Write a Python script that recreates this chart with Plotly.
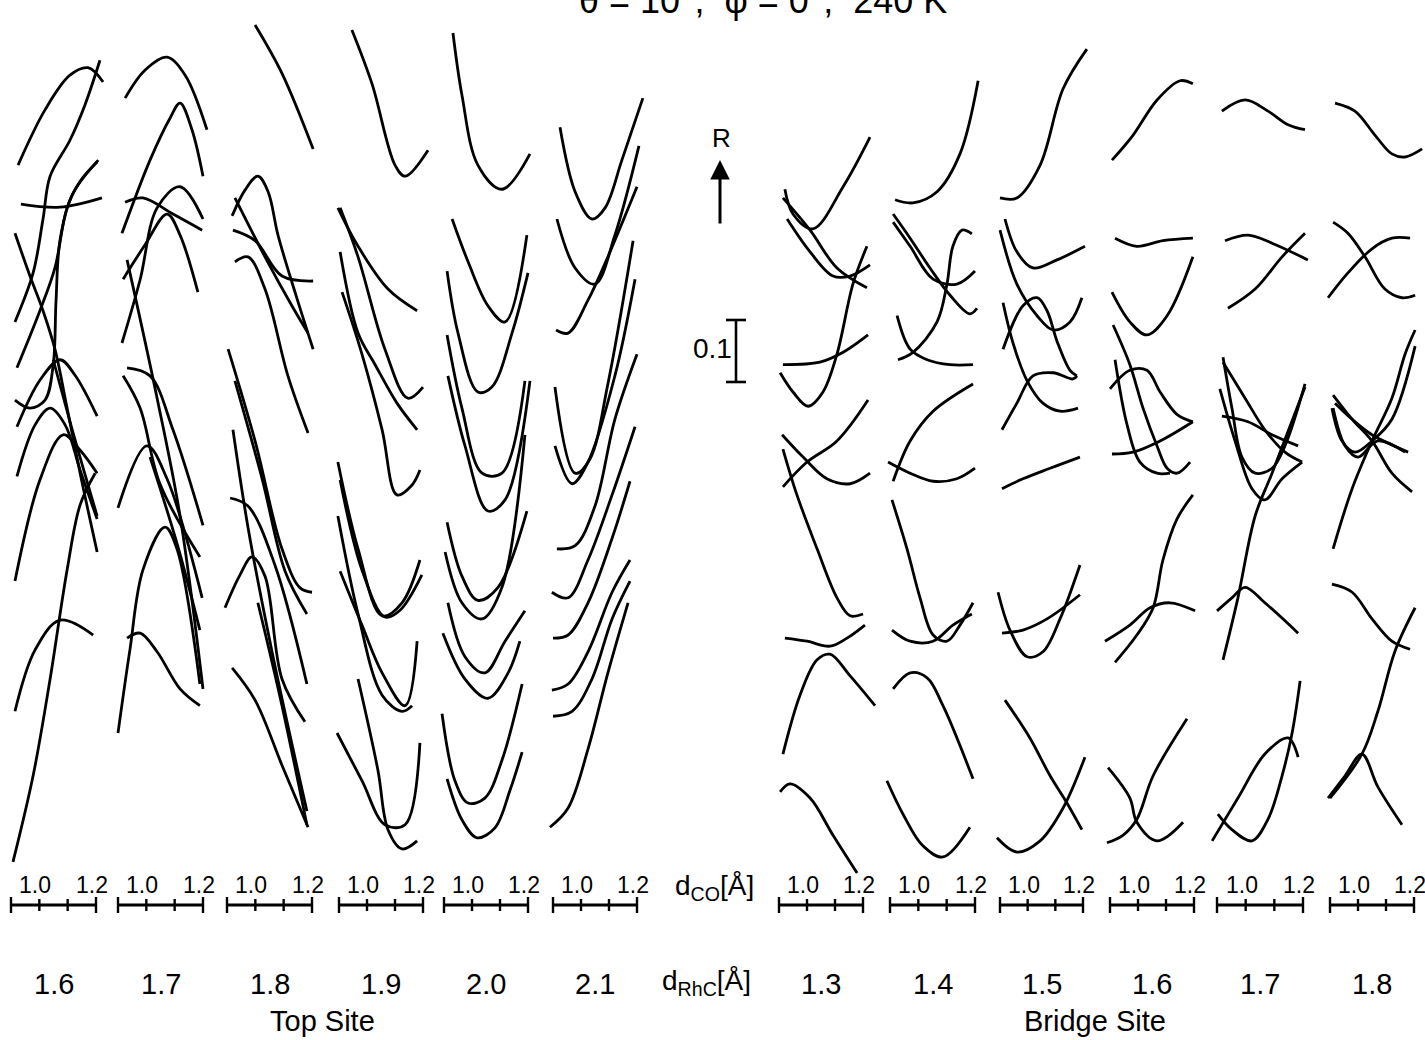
import plotly.graph_objects as go

W, H = 1425, 1040

# ---------------- data ----------------
DCO_TICKS = [0.9, 1.0, 1.1, 1.2]
DCO_LABELED = [1.0, 1.2]
TOP_DRHC = ["1.6", "1.7", "1.8", "1.9", "2.0", "2.1"]
BRIDGE_DRHC = ["1.3", "1.4", "1.5", "1.6", "1.7", "1.8"]
SCALE_R = 0.1  # R scale bar length

# each curve: list of (d_CO [Å], R with vertical offset)
top_16 = [
    [(0.925, 1.137), (1.020, 1.226), (1.108, 1.282), (1.172, 1.294), (1.225, 1.271)],
    [(0.914, 0.884), (0.978, 0.963), (1.013, 1.050), (1.038, 1.119), (1.108, 1.177), (1.161, 1.234), (1.214, 1.306)],
    [(0.935, 1.074), (1.073, 1.069), (1.221, 1.084)],
    [(0.914, 1.027), (0.967, 0.958), (1.013, 0.902), (1.055, 0.840), (1.098, 0.745), (1.144, 0.640), (1.204, 0.513)],
    [(0.921, 0.810), (1.002, 0.902), (1.055, 0.971), (1.098, 1.068), (1.144, 1.111), (1.204, 1.142)],
    [(0.914, 0.758), (0.967, 0.745), (1.020, 0.758), (1.049, 0.815), (1.059, 0.919), (1.073, 1.016), (1.116, 1.089), (1.208, 1.145)],
    [(0.921, 0.715), (1.002, 0.790), (1.073, 0.823), (1.126, 0.798), (1.204, 0.732)],
    [(0.921, 0.635), (0.985, 0.718), (1.038, 0.745), (1.091, 0.718), (1.144, 0.645), (1.204, 0.566)],
    [(0.914, 0.466), (1.002, 0.629), (1.084, 0.702), (1.144, 0.677), (1.204, 0.640)],
    [(0.907, 0.013), (0.978, 0.152), (1.038, 0.308), (1.098, 0.484), (1.144, 0.589), (1.197, 0.640)],
    [(0.914, 0.256), (0.985, 0.355), (1.073, 0.403), (1.190, 0.379)],
    [(1.049, 0.823), (1.126, 0.694), (1.204, 0.571)],
]
top_17 = [
    [(0.925, 1.245), (0.995, 1.290), (1.073, 1.311), (1.137, 1.282), (1.214, 1.194)],
    [(0.914, 1.027), (1.013, 1.145), (1.084, 1.213), (1.119, 1.237), (1.161, 1.194), (1.200, 1.119)],
    [(0.925, 1.077), (0.988, 1.084), (1.094, 1.058), (1.197, 1.032)],
    [(0.914, 0.850), (0.978, 0.952), (1.038, 1.068), (1.119, 1.102), (1.200, 1.050)],
    [(0.918, 0.953), (0.995, 1.008), (1.073, 1.058), (1.119, 1.024), (1.182, 0.932)],
    [(0.932, 0.984), (1.038, 0.761), (1.119, 0.571), (1.200, 0.292)],
    [(0.932, 0.810), (1.013, 0.797), (1.094, 0.710), (1.200, 0.556)],
    [(0.918, 0.797), (0.978, 0.745), (1.048, 0.623), (1.189, 0.505)],
    [(0.900, 0.584), (1.002, 0.684), (1.073, 0.631), (1.197, 0.439)],
    [(1.013, 0.666), (1.108, 0.527), (1.189, 0.387)],
    [(0.900, 0.221), (0.942, 0.355), (0.988, 0.484), (1.066, 0.553), (1.108, 0.518), (1.189, 0.300)],
    [(0.932, 0.374), (0.978, 0.382), (1.038, 0.352), (1.119, 0.292), (1.189, 0.265)],
]
top_18 = [
    [(0.999, 1.363), (1.094, 1.285), (1.204, 1.163)],
    [(0.918, 1.055), (0.964, 1.097), (1.009, 1.119), (1.045, 1.094), (1.080, 1.024), (1.140, 0.932), (1.204, 0.840)],
    [(0.928, 1.084), (1.034, 0.989), (1.129, 0.910), (1.186, 0.866)],
    [(0.921, 1.032), (0.999, 1.015), (1.094, 0.958), (1.204, 0.950)],
    [(0.928, 0.981), (0.974, 0.989), (1.034, 0.937), (1.115, 0.797), (1.186, 0.705)],
    [(0.904, 0.840), (0.999, 0.692), (1.094, 0.518), (1.158, 0.455), (1.200, 0.448)],
    [(0.928, 0.789), (1.024, 0.631), (1.105, 0.482), (1.182, 0.413)],
    [(0.921, 0.710), (0.974, 0.553), (1.059, 0.352), (1.182, 0.095)],
    [(0.911, 0.600), (0.974, 0.587), (1.069, 0.492), (1.182, 0.300)],
    [(0.893, 0.423), (0.946, 0.476), (0.988, 0.505), (1.034, 0.474), (1.094, 0.308), (1.175, 0.239)],
    [(1.009, 0.431), (1.094, 0.265), (1.182, 0.073)],
    [(0.918, 0.326), (0.999, 0.274), (1.094, 0.169), (1.186, 0.069)],
]
top_19 = [
    [(0.946, 1.355), (1.018, 1.268), (1.100, 1.137), (1.136, 1.119), (1.218, 1.161)],
    [(0.896, 1.068), (0.968, 1.006), (1.075, 0.937), (1.179, 0.902)],
    [(0.904, 1.068), (0.968, 0.989), (1.064, 0.840), (1.146, 0.761), (1.200, 0.779)],
    [(0.904, 0.997), (0.968, 0.866), (1.029, 0.815), (1.107, 0.753), (1.179, 0.710)],
    [(0.911, 0.932), (0.982, 0.832), (1.054, 0.710), (1.107, 0.605), (1.161, 0.621), (1.189, 0.645)],
    [(0.896, 0.658), (0.968, 0.518), (1.054, 0.410), (1.125, 0.431), (1.189, 0.500)],
    [(0.904, 0.629), (0.982, 0.484), (1.064, 0.408), (1.118, 0.419), (1.196, 0.476)],
    [(0.904, 0.482), (0.982, 0.395), (1.054, 0.318), (1.136, 0.265), (1.179, 0.369)],
    [(0.896, 0.571), (0.968, 0.413), (1.054, 0.282), (1.125, 0.256), (1.161, 0.265)],
    [(0.893, 0.221), (0.982, 0.144), (1.064, 0.073), (1.136, 0.073), (1.189, 0.205)],
    [(0.968, 0.308), (1.039, 0.161), (1.075, 0.065), (1.125, 0.034), (1.179, 0.047)],
]
top_20 = [
    [(0.932, 1.350), (0.964, 1.250), (1.021, 1.137), (1.107, 1.098), (1.207, 1.155)],
    [(0.929, 1.050), (0.986, 0.981), (1.057, 0.910), (1.118, 0.884), (1.196, 1.024)],
    [(0.911, 0.966), (0.950, 0.866), (1.021, 0.771), (1.071, 0.779), (1.143, 0.866), (1.200, 0.963)],
    [(0.911, 0.863), (0.964, 0.745), (1.036, 0.640), (1.107, 0.640), (1.189, 0.789)],
    [(0.914, 0.797), (0.975, 0.684), (1.057, 0.579), (1.118, 0.597), (1.207, 0.789)],
    [(0.911, 0.561), (0.964, 0.474), (1.021, 0.435), (1.093, 0.456), (1.196, 0.579)],
    [(0.904, 0.513), (0.964, 0.431), (1.036, 0.405), (1.107, 0.456), (1.189, 0.702)],
    [(0.914, 0.431), (0.975, 0.344), (1.046, 0.318), (1.118, 0.369), (1.189, 0.418)],
    [(0.896, 0.382), (0.975, 0.308), (1.057, 0.277), (1.129, 0.318), (1.171, 0.369)],
    [(0.893, 0.252), (0.939, 0.144), (0.986, 0.108), (1.046, 0.116), (1.107, 0.177), (1.179, 0.300)],
    [(0.911, 0.147), (0.964, 0.081), (1.018, 0.052), (1.082, 0.068), (1.136, 0.129), (1.179, 0.190)],
]
top_21 = [
    [(0.925, 1.198), (0.979, 1.094), (1.039, 1.050), (1.086, 1.068), (1.146, 1.145), (1.221, 1.245)],
    [(0.914, 1.050), (0.979, 0.971), (1.050, 0.945), (1.121, 1.024), (1.207, 1.168)],
    [(0.911, 0.871), (0.954, 0.866), (1.025, 0.919), (1.096, 0.989), (1.200, 1.102)],
    [(0.907, 0.779), (0.979, 0.640), (1.032, 0.663), (1.096, 0.784), (1.186, 1.015)],
    [(0.907, 0.684), (0.968, 0.623), (1.025, 0.658), (1.121, 0.797), (1.193, 0.953)],
    [(0.914, 0.518), (0.979, 0.523), (1.050, 0.587), (1.121, 0.727), (1.200, 0.832)],
    [(0.896, 0.448), (0.954, 0.439), (1.025, 0.500), (1.111, 0.605), (1.193, 0.715)],
    [(0.900, 0.374), (0.954, 0.379), (1.025, 0.431), (1.111, 0.535), (1.175, 0.627)],
    [(0.896, 0.290), (0.954, 0.300), (1.025, 0.352), (1.111, 0.448), (1.175, 0.500)],
    [(0.900, 0.248), (0.968, 0.256), (1.039, 0.308), (1.111, 0.405), (1.175, 0.466)],
    [(0.889, 0.069), (0.954, 0.100), (1.025, 0.195), (1.096, 0.318), (1.168, 0.431)],
]
bridge_13 = [
    [(0.921, 1.098), (0.950, 1.058), (1.021, 1.034), (1.129, 1.102), (1.225, 1.182)],
    [(0.914, 1.084), (1.011, 1.032), (1.107, 0.971), (1.214, 0.939)],
    [(0.929, 1.050), (1.011, 0.997), (1.093, 0.958), (1.154, 0.958), (1.225, 0.976)],
    [(0.904, 0.802), (0.950, 0.771), (1.004, 0.748), (1.057, 0.771), (1.107, 0.832), (1.164, 0.945), (1.214, 1.006)],
    [(0.914, 0.815), (1.046, 0.819), (1.129, 0.835), (1.218, 0.863)],
    [(0.914, 0.618), (1.000, 0.658), (1.107, 0.692), (1.218, 0.758)],
    [(0.911, 0.702), (0.986, 0.666), (1.071, 0.631), (1.154, 0.623), (1.225, 0.640)],
    [(0.914, 0.679), (0.964, 0.605), (1.036, 0.518), (1.107, 0.439), (1.154, 0.410), (1.200, 0.413)],
    [(0.921, 0.374), (1.000, 0.369), (1.082, 0.361), (1.143, 0.374), (1.207, 0.395)],
    [(0.914, 0.187), (0.975, 0.282), (1.036, 0.339), (1.082, 0.348), (1.154, 0.313), (1.243, 0.265)],
    [(0.904, 0.126), (0.939, 0.139), (1.011, 0.116), (1.093, 0.056), (1.179, -0.005)],
]
bridge_14 = [
    [(0.918, 1.081), (0.981, 1.076), (1.066, 1.094), (1.147, 1.155), (1.211, 1.273)],
    [(0.911, 1.058), (0.971, 1.019), (1.041, 0.971), (1.112, 0.927), (1.182, 0.897), (1.207, 0.906)],
    [(0.911, 1.045), (0.971, 1.006), (1.052, 0.953), (1.136, 0.945), (1.200, 0.966)],
    [(0.925, 0.894), (0.971, 0.840), (1.031, 0.823), (1.112, 0.815), (1.193, 0.815)],
    [(0.928, 0.823), (0.981, 0.835), (1.066, 0.884), (1.101, 0.945), (1.122, 1.006), (1.154, 1.032), (1.189, 1.026)],
    [(0.911, 0.627), (0.971, 0.692), (1.052, 0.740), (1.193, 0.784)],
    [(0.893, 0.658), (0.971, 0.640), (1.052, 0.627), (1.136, 0.631), (1.200, 0.648)],
    [(0.907, 0.597), (0.960, 0.518), (1.006, 0.439), (1.052, 0.379), (1.101, 0.369), (1.147, 0.395), (1.193, 0.431)],
    [(0.907, 0.387), (0.971, 0.369), (1.052, 0.369), (1.122, 0.395), (1.189, 0.413)],
    [(0.911, 0.292), (0.971, 0.318), (1.031, 0.310), (1.087, 0.265), (1.193, 0.147)],
    [(0.889, 0.144), (0.946, 0.090), (1.016, 0.039), (1.087, 0.021), (1.182, 0.069)],
]
bridge_15 = [
    [(0.900, 1.084), (0.961, 1.084), (1.045, 1.137), (1.128, 1.260), (1.214, 1.324)],
    [(0.918, 1.050), (0.961, 0.997), (1.019, 0.971), (1.106, 0.984), (1.207, 1.006)],
    [(0.900, 1.032), (0.961, 0.945), (1.034, 0.894), (1.092, 0.871), (1.153, 0.884), (1.196, 0.923)],
    [(0.911, 0.840), (0.983, 0.910), (1.034, 0.923), (1.070, 0.902), (1.106, 0.853), (1.153, 0.806), (1.178, 0.797)],
    [(0.911, 0.915), (0.947, 0.850), (0.998, 0.789), (1.055, 0.753), (1.117, 0.740), (1.182, 0.745)],
    [(0.907, 0.710), (0.961, 0.753), (1.019, 0.797), (1.092, 0.802), (1.164, 0.792), (1.178, 0.797)],
    [(0.907, 0.615), (0.983, 0.631), (1.081, 0.648), (1.189, 0.666)],
    [(0.893, 0.448), (0.936, 0.387), (0.998, 0.344), (1.055, 0.352), (1.117, 0.405), (1.189, 0.492)],
    [(0.907, 0.382), (0.983, 0.387), (1.070, 0.405), (1.189, 0.444)],
    [(0.918, 0.274), (1.008, 0.213), (1.081, 0.152), (1.142, 0.108), (1.196, 0.065)],
    [(0.889, 0.052), (0.961, 0.029), (1.045, 0.047), (1.128, 0.100), (1.207, 0.182)],
]
bridge_16 = [
    [(0.907, 1.145), (0.982, 1.185), (1.068, 1.242), (1.150, 1.273), (1.196, 1.268)],
    [(0.918, 1.019), (0.996, 1.006), (1.089, 1.015), (1.196, 1.019)],
    [(0.907, 0.932), (0.971, 0.884), (1.032, 0.863), (1.104, 0.894), (1.196, 0.989)],
    [(0.911, 0.879), (0.971, 0.815), (1.018, 0.745), (1.068, 0.684), (1.104, 0.648), (1.139, 0.640), (1.186, 0.658)],
    [(0.918, 0.823), (0.961, 0.718), (1.007, 0.658), (1.068, 0.640), (1.114, 0.640)],
    [(0.900, 0.776), (0.971, 0.806), (1.032, 0.806), (1.079, 0.771), (1.139, 0.735), (1.196, 0.723)],
    [(0.907, 0.671), (0.982, 0.674), (1.079, 0.692), (1.196, 0.723)],
    [(0.918, 0.335), (0.996, 0.379), (1.054, 0.423), (1.089, 0.500), (1.139, 0.566), (1.196, 0.605)],
    [(0.882, 0.369), (0.971, 0.395), (1.043, 0.423), (1.114, 0.431), (1.204, 0.418)],
    [(0.893, 0.165), (0.971, 0.116), (0.996, 0.077), (1.068, 0.047), (1.161, 0.077)],
    [(0.889, 0.044), (0.946, 0.056), (0.996, 0.082), (1.054, 0.152), (1.175, 0.244)],
]
bridge_17 = [
    [(0.917, 1.224), (0.998, 1.242), (1.078, 1.224), (1.148, 1.202), (1.207, 1.194)],
    [(0.928, 1.015), (1.008, 1.024), (1.092, 1.011), (1.217, 0.984)],
    [(0.938, 0.906), (1.033, 0.937), (1.127, 0.989), (1.207, 1.027)],
    [(0.921, 0.827), (0.952, 0.745), (0.987, 0.666), (1.033, 0.640), (1.092, 0.648), (1.137, 0.684), (1.207, 0.784)],
    [(0.910, 0.776), (0.963, 0.692), (1.022, 0.615), (1.067, 0.597), (1.127, 0.631), (1.197, 0.658)],
    [(0.917, 0.732), (1.008, 0.723), (1.092, 0.702), (1.183, 0.684)],
    [(0.921, 0.819), (0.998, 0.761), (1.067, 0.710), (1.137, 0.674), (1.197, 0.658)],
    [(0.921, 0.339), (0.973, 0.439), (1.033, 0.571), (1.092, 0.640), (1.207, 0.779)],
    [(0.900, 0.418), (0.952, 0.439), (0.998, 0.456), (1.067, 0.431), (1.183, 0.382)],
    [(0.903, 0.090), (0.952, 0.065), (1.022, 0.047), (1.078, 0.082), (1.127, 0.152), (1.162, 0.221), (1.190, 0.305)],
    [(0.883, 0.047), (0.973, 0.116), (1.067, 0.187), (1.148, 0.213), (1.183, 0.182)],
]
bridge_18 = [
    [(0.918, 1.237), (0.989, 1.224), (1.061, 1.185), (1.121, 1.155), (1.168, 1.150), (1.229, 1.163)],
    [(0.911, 1.045), (0.964, 1.027), (1.025, 0.989), (1.096, 0.937), (1.157, 0.923), (1.204, 0.927)],
    [(0.893, 0.923), (0.964, 0.963), (1.050, 1.002), (1.121, 1.019), (1.186, 1.019)],
    [(0.911, 0.518), (0.979, 0.615), (1.050, 0.692), (1.121, 0.761), (1.168, 0.832), (1.204, 0.871)],
    [(0.911, 0.766), (0.979, 0.727), (1.050, 0.692), (1.121, 0.640), (1.193, 0.610)],
    [(0.907, 0.745), (0.943, 0.692), (0.989, 0.674), (1.050, 0.692), (1.121, 0.727), (1.204, 0.845)],
    [(0.911, 0.745), (0.954, 0.684), (1.000, 0.666), (1.071, 0.692), (1.168, 0.674)],
    [(0.918, 0.753), (0.979, 0.727), (1.050, 0.702), (1.179, 0.674)],
    [(0.907, 0.461), (0.979, 0.448), (1.050, 0.405), (1.121, 0.369), (1.186, 0.356)],
    [(0.900, 0.116), (1.014, 0.187), (1.071, 0.256), (1.132, 0.353), (1.204, 0.423)],
    [(0.893, 0.116), (0.954, 0.152), (1.014, 0.187), (1.071, 0.134), (1.157, 0.073)],
]

COLUMNS = [top_16, top_17, top_18, top_19, top_20, top_21,
           bridge_13, bridge_14, bridge_15, bridge_16, bridge_17, bridge_18]
COL_LABELS = TOP_DRHC + BRIDGE_DRHC

# ---------------- layout geometry (pixels) ----------------
COL_PX = [(11, 96), (118, 203), (227, 312), (339, 423), (444, 528), (553, 637),
          (779, 863), (890, 975), (1000, 1083), (1110, 1194), (1217, 1303), (1330, 1414)]
Y0_PX, PX_PER_R = 870, 620.0
y_range = [(Y0_PX - H) / PX_PER_R, Y0_PX / PX_PER_R]
FONT = "Liberation Sans, Arial, sans-serif"


def py(px):  # pixel row -> paper fraction
    return 1 - px / H


def txt(x, y, text, size, xref="paper", **kw):
    d = dict(xref=xref, yref="paper", x=x, y=y, text=text, showarrow=False,
             xanchor="center", yanchor="middle",
             font=dict(size=size, family=FONT, color="black"))
    d.update(kw)
    return d


fig = go.Figure()
layout = dict(
    width=W, height=H, margin=dict(l=0, r=0, t=0, b=0),
    paper_bgcolor="white", plot_bgcolor="rgba(0,0,0,0)",
    showlegend=False,
    yaxis=dict(domain=[0, 1], range=y_range, visible=False, fixedrange=True),
)
shapes, annotations = [], []
BAR_Y = 905
for i, (curves, (L, R)) in enumerate(zip(COLUMNS, COL_PX), start=1):
    ax = "x" if i == 1 else f"x{i}"
    key = "xaxis" if i == 1 else f"xaxis{i}"
    ppa = (R - L) / 0.3
    lp, rp = max(0, L - 30), min(W, R + 30)
    layout[key] = dict(domain=[lp / W, rp / W],
                       range=[0.9 - (L - lp) / ppa, 1.2 + (rp - R) / ppa],
                       visible=False, anchor="y", fixedrange=True)
    for c in curves:
        fig.add_trace(go.Scatter(
            x=[p[0] for p in c], y=[p[1] for p in c], mode="lines",
            line=dict(color="black", width=2.8, shape="spline", smoothing=1.0),
            xaxis=ax, yaxis="y", hoverinfo="skip"))
    # d_CO scale bar
    shapes.append(dict(type="line", xref=ax, yref="paper", x0=DCO_TICKS[0], x1=DCO_TICKS[-1],
                       y0=py(BAR_Y), y1=py(BAR_Y), line=dict(color="black", width=2.8)))
    for t in DCO_TICKS:
        hl = 8 if t in (DCO_TICKS[0], DCO_TICKS[-1]) else 6
        shapes.append(dict(type="line", xref=ax, yref="paper", x0=t, x1=t,
                           y0=py(BAR_Y - hl), y1=py(BAR_Y + hl), line=dict(color="black", width=2.4)))
    for t in DCO_LABELED:
        annotations.append(txt(t, py(885), f"{t:.1f}", 23, xref=ax, xshift=-4))
    annotations.append(txt(1.05, py(984), COL_LABELS[i - 1], 29, xref=ax))

# axis captions and other texts
annotations += [
    txt(714 / W, py(887), "d<sub>CO</sub>[Å]", 28),
    txt(706 / W, py(982), "d<sub>RhC</sub>[Å]", 28),
    txt(322 / W, py(1021), "Top Site", 29),
    txt(1095 / W, py(1021), "Bridge Site", 29),
    # title, partly outside the page as in the scan
    txt(763 / W, 1.0, "θ = 10°,  φ = 0°,  240 K", 36),
    # R arrow
    txt(721 / W, py(138), "R", 26),
    dict(xref="paper", yref="paper", x=720 / W, y=py(160), ax=0, ay=65, text="",
         showarrow=True, arrowhead=2, arrowsize=1.3, arrowwidth=3, arrowcolor="black"),
    # 0.1 scale label
    txt(712 / W, py(349), "0.1", 28),
]

# R scale bar (0.1 in R units)
r_lo = (Y0_PX - 382) / PX_PER_R
shapes += [
    dict(type="line", xref="paper", yref="y", x0=736 / W, x1=736 / W, y0=r_lo, y1=r_lo + SCALE_R,
         line=dict(color="black", width=2.6)),
    dict(type="line", xref="paper", yref="y", x0=726 / W, x1=746 / W, y0=r_lo, y1=r_lo,
         line=dict(color="black", width=2.6)),
    dict(type="line", xref="paper", yref="y", x0=726 / W, x1=746 / W, y0=r_lo + SCALE_R, y1=r_lo + SCALE_R,
         line=dict(color="black", width=2.6)),
]

layout["shapes"] = shapes
layout["annotations"] = annotations
fig.update_layout(**layout)
fig.write_html("out.html")
